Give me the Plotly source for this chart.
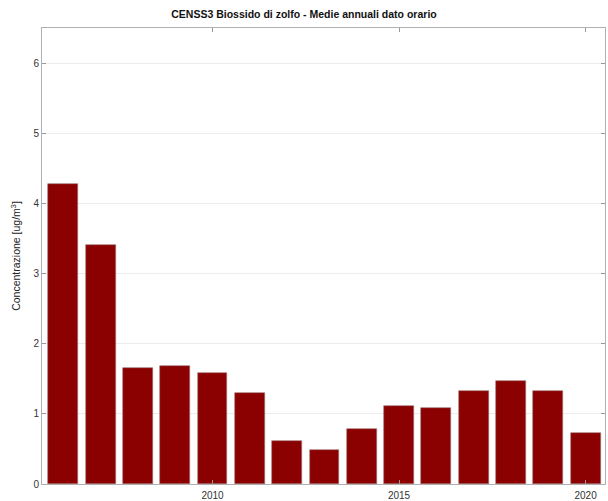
import plotly.graph_objects as go

years = [2006, 2007, 2008, 2009, 2010, 2011, 2012, 2013, 2014, 2015, 2016, 2017, 2018, 2019, 2020]
values = [4.27, 3.40, 1.65, 1.68, 1.58, 1.30, 0.62, 0.49, 0.78, 1.11, 1.09, 1.33, 1.47, 1.32, 0.72]
x_ticks = [2010, 2015, 2020]
y_ticks = [0, 1, 2, 3, 4, 5, 6]

fig = go.Figure()
fig.add_trace(go.Bar(
    x=years, y=values, width=0.8,
    marker=dict(color="#8b0000", line=dict(color="#9a7070", width=0.6)),
))

axis_common = dict(
    showline=True, linecolor="#b0b0b0", linewidth=1, mirror="ticks",
    ticks="inside", ticklen=4, tickcolor="#999999",
    tickfont=dict(family="Liberation Sans, Arial", size=10, color="#333333"),
    zeroline=False,
)
fig.update_layout(
    width=608, height=501,
    margin=dict(l=42, r=3, t=28, b=17),
    paper_bgcolor="white", plot_bgcolor="white",
    showlegend=False, bargap=0,
    title=dict(text="<b>CENSS3 Biossido di zolfo - Medie annuali dato orario</b>",
               x=0.5, xanchor="center", y=0.972, yanchor="middle",
               font=dict(family="Liberation Sans, Arial", size=10.5, color="#111111")),
    xaxis=dict(range=[2005.43, 2020.52], tickvals=x_ticks, showgrid=False,
               ticklabelstandoff=2, automargin=False, **axis_common),
    yaxis=dict(range=[0, 6.5], tickvals=y_ticks, showgrid=True, gridcolor="#ececec", gridwidth=1,
               title=dict(text="Concentrazione [ug/m<sup>3</sup>]", standoff=10,
                          font=dict(family="Liberation Sans, Arial", size=10.5, color="#222222")),
               **axis_common),
)
fig.write_html("out.html")
